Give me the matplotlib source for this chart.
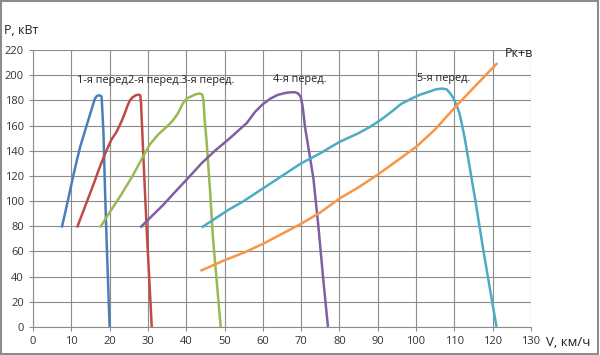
import matplotlib.pyplot as plt
from matplotlib.patches import Rectangle

# gear curves: speed V (km/h) vs power P (kW)
v1 = [7.5, 8.5, 9.5, 10.5, 11.5, 12.3, 13.1, 13.8, 14.4, 15.1, 15.7, 16.2, 16.6, 17.1, 17.6, 17.9, 18.1, 18.4, 18.8, 19.2, 19.6, 20]
p1 = [79, 92, 106, 120, 133, 143, 151, 158, 164, 171, 177, 181.5, 183.3, 184, 183.8, 183, 172, 154, 109, 70, 35, 0]

v2 = [11.5, 13, 14.5, 16, 17.3, 18.4, 19.3, 20.5, 21.8, 22.6, 23.2, 24, 24.7, 25.3, 26, 26.8, 27.5, 28, 28.2, 28.6, 29.2, 29.8, 30.4, 31]
p2 = [79, 91, 103, 115, 126, 134.5, 141, 149, 155, 160, 164, 170, 176, 180, 182.5, 184, 184.6, 184, 178, 150, 109, 70, 35, 0]

v3 = [17.5, 20, 23, 26, 28.3, 30.5, 32.7, 34.9, 36.5, 37.9, 39, 40.1, 41.5, 42.6, 43.6, 44.2, 44.5, 44.8, 45.3, 46.2, 47, 48, 49]
p3 = [79, 91, 105, 120, 133, 145, 153, 159, 164, 170, 177, 181.5, 183.5, 185, 185.5, 184.5, 180, 165, 148, 109, 70, 35, 0]

v4 = [28, 31, 34, 37, 41, 44, 47.5, 51.4, 55.8, 58, 60, 62, 64, 66, 67.5, 68.4, 69.2, 69.9, 70.4, 71, 72.3, 73.2, 74.5, 75.7, 77]
p4 = [79, 88, 97, 107, 120, 130, 140, 150, 162, 171, 177, 181.5, 184.5, 186, 186.5, 186.5, 185.5, 182.8, 175, 159, 135, 118, 80, 40, 0]

v5 = [44, 47, 51, 55, 60, 65, 70, 75, 80, 85, 88, 91, 94, 96, 98.5, 101, 103.5, 105.2, 106.7, 108, 108.9, 109.8, 110.6, 111.3, 111.9, 112.7, 113.6, 115.5, 117.5, 119.3, 121]
p5 = [79, 85, 93, 100, 110, 120, 130, 138, 147, 154, 159, 165, 172, 177, 181, 184.5, 187, 188.8, 189.4, 188.8, 185.6, 181.5, 176, 170, 162, 150, 134, 100, 62, 30, 0]

v_kv = [44, 47, 50, 55, 60, 65, 70, 75, 80, 85, 90, 95, 100, 105, 110, 115, 121]
p_kv = [45, 49, 53, 59, 66, 74, 82, 91, 102, 111, 121, 132, 143, 157, 174, 190, 209]

gears = [(v1, p1, '#4a7ebb'), (v2, p2, '#be4b48'), (v3, p3, '#98b954'),
         (v4, p4, '#7d60a0'), (v5, p5, '#4bacc6')]

labels = ['1-я перед', '2-я перед.', '3-я перед.', '4-я перед.', '5-я перед.']
label_pos = [(11.4, 195.5), (24.8, 195.5), (38.6, 195.5), (62.6, 196.5), (100.2, 197.5)]

plt.rcParams['font.family'] = ['Open Sans', 'DejaVu Sans']

fig = plt.figure(figsize=(6, 3.55), dpi=100)
ax = fig.add_axes([0.055, 0.079, 0.83, 0.78])

for v, p, c in gears:
    ax.plot(v, p, color=c, lw=1.8, solid_joinstyle='round', solid_capstyle='butt')
ax.plot(v_kv, p_kv, color='#f79646', lw=1.8, solid_joinstyle='round')

for t, (x, y) in zip(labels, label_pos):
    ax.text(x, y, t, fontsize=7.8, color='#222222', ha='left', va='center')

ax.text(123.2, 217.5, 'Pк+в', fontsize=9, ha='left', va='center', color='#222222')

ax.set_xlim(0, 130)
ax.set_ylim(0, 220)
ax.set_xticks(range(0, 131, 10))
ax.set_yticks(range(0, 221, 20))
ax.grid(True, color='#8c8c8c', lw=0.8)
ax.set_axisbelow(True)
for s in ['top', 'right']:
    ax.spines[s].set_visible(False)
for s in ['left', 'bottom']:
    ax.spines[s].set_color('#8c8c8c')
ax.tick_params(labelsize=8, colors='#8c8c8c', labelcolor='#333333', length=3, width=0.8)

fig.text(0.007, 0.915, 'P, кВт', fontsize=9, color='#222222', ha='left', va='center')
fig.text(0.91, 0.034, 'V, км/ч', fontsize=9.5, color='#222222', ha='left', va='center')

fig.add_artist(Rectangle((0.002, 0.003), 0.995, 0.994, transform=fig.transFigure,
                         fill=False, edgecolor='#8c8c8c', lw=1.5))

fig.savefig('out.png', dpi=100)
